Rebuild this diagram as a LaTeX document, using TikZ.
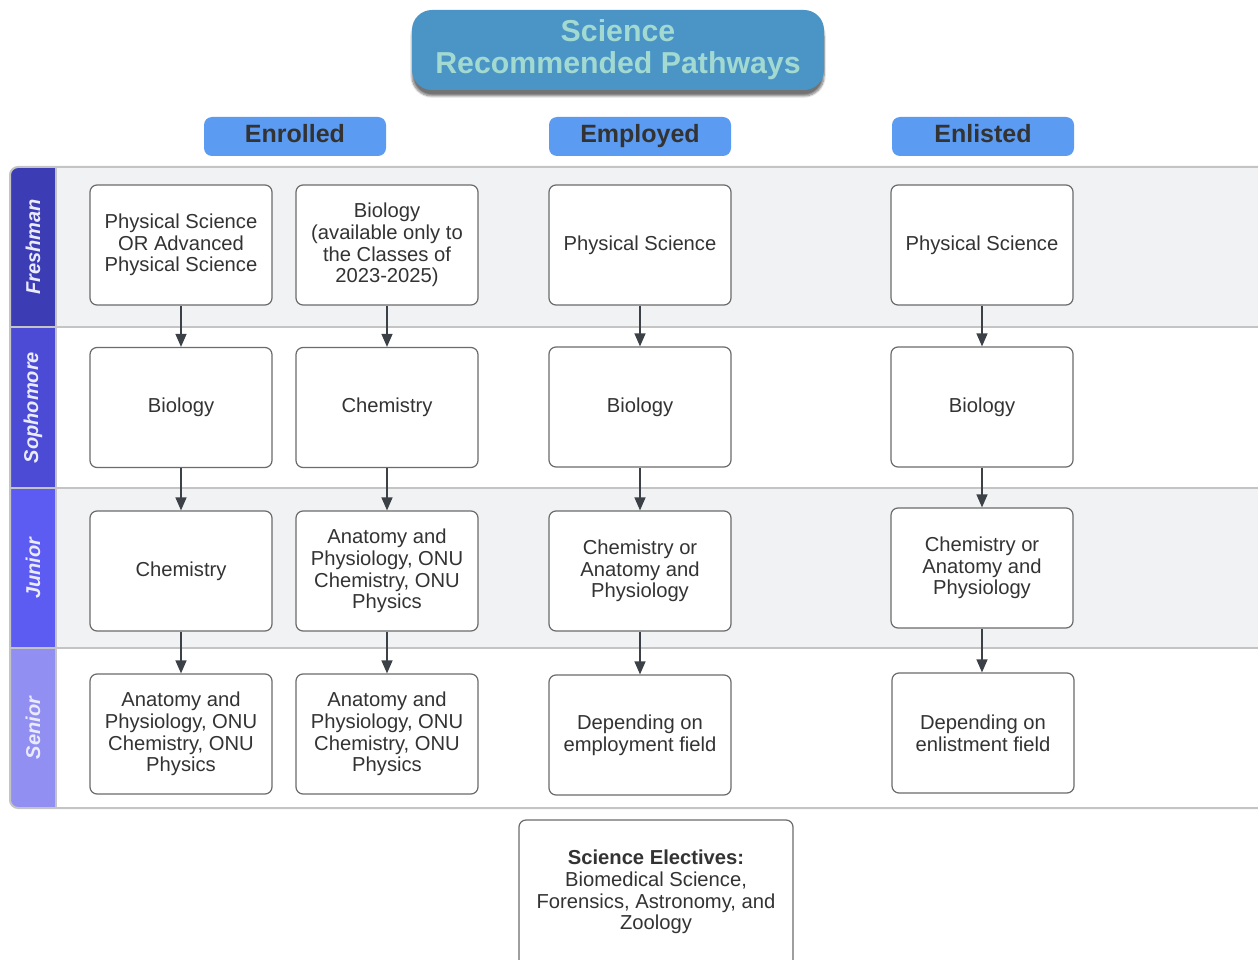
\documentclass[tikz,border=0pt]{standalone}
\usepackage{fontspec}
\setmainfont{Liberation Sans}
\usetikzlibrary{arrows.meta,shadows.blur}
\definecolor{titlefill}{HTML}{4A94C6}
\definecolor{titletext}{HTML}{A2D9D0}
\definecolor{headfill}{HTML}{5B9BF2}
\definecolor{darktext}{HTML}{333333}
\definecolor{rowgray}{HTML}{F1F2F4}
\definecolor{lanegray}{HTML}{C4C4C4}
\definecolor{boxline}{HTML}{6B6B6B}
\definecolor{arrowcol}{HTML}{3C4148}
\definecolor{freshc}{HTML}{3C3CB5}
\definecolor{sophc}{HTML}{4B4BD6}
\definecolor{juniorc}{HTML}{5D5CF2}
\definecolor{seniorc}{HTML}{918FF2}
\begin{document}
\begin{tikzpicture}[x=1pt,y=-1pt,
  coursebox/.style={draw=boxline, line width=1.2pt, fill=white, rounded corners=7pt,
    minimum width=182pt, minimum height=120pt, align=center, text=darktext,
    inner sep=2pt, font=\fontsize{20.2}{21.6}\selectfont},
  headbox/.style={fill=headfill, rounded corners=8pt, minimum width=182pt, minimum height=39pt,
    text=darktext, font=\fontsize{25}{28}\selectfont\bfseries, inner sep=0pt,
    text height=18pt, text depth=6pt},
  lanelab/.style={rotate=90, text=white!92!blue, font=\fontsize{20}{24}\selectfont\bfseries\itshape, inner sep=0pt},
  flow/.style={draw=arrowcol, line width=1.3pt, -{Triangle[length=13pt,width=11pt]}}
]
\useasboundingbox (0,0) rectangle (1258,960);
\clip (0,0) rectangle (1258,960);

% lanes
\begin{scope}
\clip[rounded corners=8pt] (10,167) rectangle (1300,808);
\fill[rowgray] (10,167) rectangle (1300,327);
\fill[white] (10,327) rectangle (1300,488);
\fill[rowgray] (10,488) rectangle (1300,648);
\fill[white] (10,648) rectangle (1300,808);
\fill[freshc] (10,167) rectangle (56,327);
\fill[sophc] (10,327) rectangle (56,488);
\fill[juniorc] (10,488) rectangle (56,648);
\fill[seniorc] (10,648) rectangle (56,808);
\end{scope}
\draw[lanegray, line width=2pt, rounded corners=8pt] (10,167) rectangle (1300,808);
\draw[lanegray, line width=2pt] (10,327) -- (1300,327);
\draw[lanegray, line width=2pt] (10,488) -- (1300,488);
\draw[lanegray, line width=2pt] (10,648) -- (1300,648);
\draw[lanegray, line width=2pt] (56,167) -- (56,808);

\node[lanelab] (lf) at (33,247) {Freshman};
\node[lanelab] (ls) at (33,407.5) {Sophomore};
\node[lanelab] (lj) at (33,568) {Junior};
\node[lanelab] (lsn) at (33,728) {Senior};

% title
\node[fill=titlefill, rounded corners=20pt, minimum width=412pt, minimum height=80pt,
  text=titletext, align=center, font=\fontsize{30.3}{32}\selectfont\bfseries,
  blur shadow={shadow xshift=0pt, shadow yshift=-6pt, shadow opacity=55, shadow blur steps=8, shadow blur extra rounding=3pt}] (title) at (618,50)
  {Science\\Recommended Pathways};

% headers
\node[headbox] (h1) at (295,136.5) {Enrolled};
\node[headbox] (h2) at (640,136.5) {Employed};
\node[headbox] (h3) at (983,136.5) {Enlisted};

% column 1
\node[coursebox] (a1) at (181,245) {Physical Science\\OR Advanced\\Physical Science};
\node[coursebox] (a2) at (181,407.5) {Biology};
\node[coursebox] (a3) at (181,571) {Chemistry};
\node[coursebox] (a4) at (181,734) {Anatomy and\\Physiology, ONU\\Chemistry, ONU\\Physics};
% column 2
\node[coursebox] (b1) at (387,245) {Biology\\(available only to\\the Classes of\\2023-2025)};
\node[coursebox] (b2) at (387,407.5) {Chemistry};
\node[coursebox] (b3) at (387,571) {Anatomy and\\Physiology, ONU\\Chemistry, ONU\\Physics};
\node[coursebox] (b4) at (387,734) {Anatomy and\\Physiology, ONU\\Chemistry, ONU\\Physics};
% column 3
\node[coursebox] (c1) at (640,245) {Physical Science};
\node[coursebox] (c2) at (640,407) {Biology};
\node[coursebox] (c3) at (640,571) {Chemistry or\\Anatomy and\\Physiology};
\node[coursebox] (c4) at (640,735) {Depending on\\employment field};
% column 4
\node[coursebox] (d1) at (982,245) {Physical Science};
\node[coursebox] (d2) at (982,407) {Biology};
\node[coursebox] (d3) at (982,568) {Chemistry or\\Anatomy and\\Physiology};
\node[coursebox] (d4) at (983,733) {Depending on\\enlistment field};

% arrows
\foreach \p/\q in {a1/a2,a2/a3,a3/a4,b1/b2,b2/b3,b3/b4,c1/c2,c2/c3,c3/c4,d1/d2,d2/d3,d3/d4}
  \draw[flow] (\p.south) -- (\p.south |- \q.north);

% electives
\node[coursebox, minimum width=274pt, minimum height=170pt] (elec) at (656,905) {};
\node[align=center, text=darktext, font=\fontsize{20.2}{21.6}\selectfont] (electxt) at (656,892)
  {\textbf{Science Electives:}\\Biomedical Science,\\Forensics, Astronomy, and\\Zoology};
\end{tikzpicture}
\end{document}
